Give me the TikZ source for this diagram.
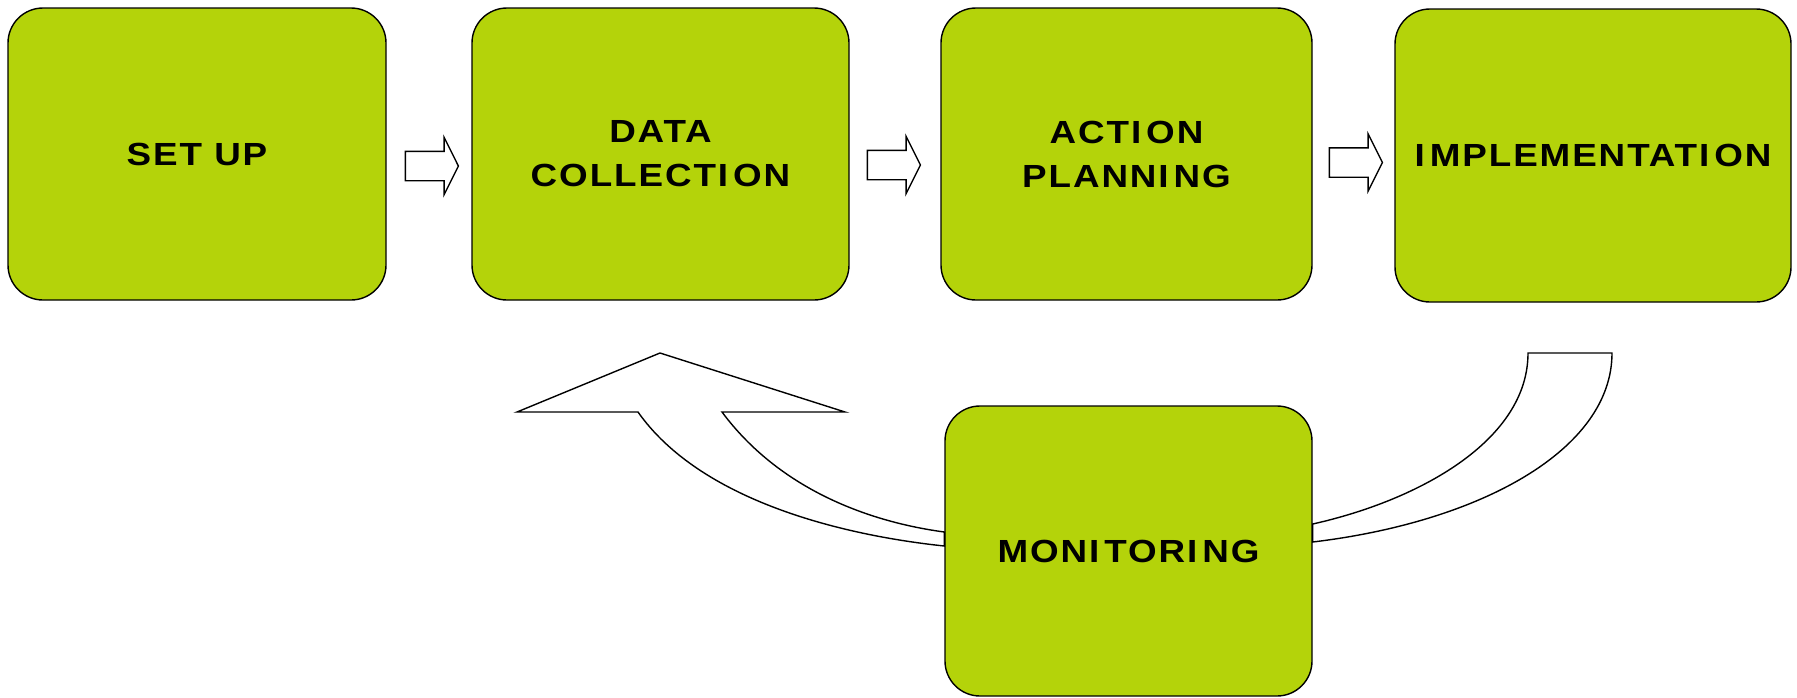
\documentclass[tikz,border=0pt]{standalone}
\usepackage{fontspec}
\usetikzlibrary{positioning,shapes.arrows,calc}
\newfontfamily\stagefont{Liberation Sans}[LetterSpace=6,FakeStretch=1.15]
\definecolor{stage-green}{RGB}{180,211,10}
% wide gap after the letter I, as printed
\newcommand{\wideI}{I\kern5pt}
\tikzset{
	stage/.style={draw=black,line width=1.4pt,fill=stage-green,rounded corners=35pt,align=center,inner sep=0pt,font=\stagefont\bfseries\fontsize{32}{44}\selectfont},
	stagearrow/.style={single arrow,draw=black,fill=white,line width=1.4pt,inner xsep=0pt,inner ysep=14pt,single arrow head extend=14pt,single arrow tip angle=127,minimum height=53pt,anchor=tail},
	looparrow/.style={draw=black,fill=white,line width=1.4pt,line join=miter}
}

\begin{document}
\begin{tikzpicture}[x=1pt,y=-1pt]
	\useasboundingbox (0,0) rectangle (1797,697);

	% stages
	\node[stage,minimum width=378pt,minimum height=292pt] (setup) at (197,154) {SET UP};
	\node[stage,minimum width=377pt,minimum height=292pt] (data) at (660.5,154) {DATA\\COLLECT\wideI ON};
	\node[stage,minimum width=371pt,minimum height=292pt] (action) at (1126.5,154) {ACT\wideI ON\\PLANN\wideI NG};
	\node[stage,minimum width=396pt,minimum height=293pt] (impl) at (1593,155.5) {\wideI MPLEMENTAT\wideI ON};
	\node[stage,minimum width=367pt,minimum height=290pt] (monitor) at (1128.5,551) {MON\wideI TOR\wideI NG};

	% block arrows between stages
	\node[stagearrow] (arrow-a) at ($(setup.east)+(18,12)$) {};
	\node[stagearrow] (arrow-b) at ($(data.east)+(17,11)$) {};
	\node[stagearrow] (arrow-c) at ($(action.east)+(16,8.5)$) {};

	% loop back to data collection
	\draw[looparrow] ($(monitor.west)+(0,-5)$) .. controls (840,535) and (700,500) .. (638,412) -- (517,412) -- (660,353) -- (845,412) -- (722,412) .. controls (780,490) and (870,522) .. ($(monitor.west)+(0,-19)$) -- cycle;

	% from implementation
	\draw[looparrow] ($(monitor.east)+(0,-27)$) .. controls (1420,500) and (1528,440) .. (1528,353) -- (1612,353) .. controls (1612,450) and (1480,522) .. ($(monitor.east)+(0,-9)$) -- cycle;
\end{tikzpicture}
\end{document}
